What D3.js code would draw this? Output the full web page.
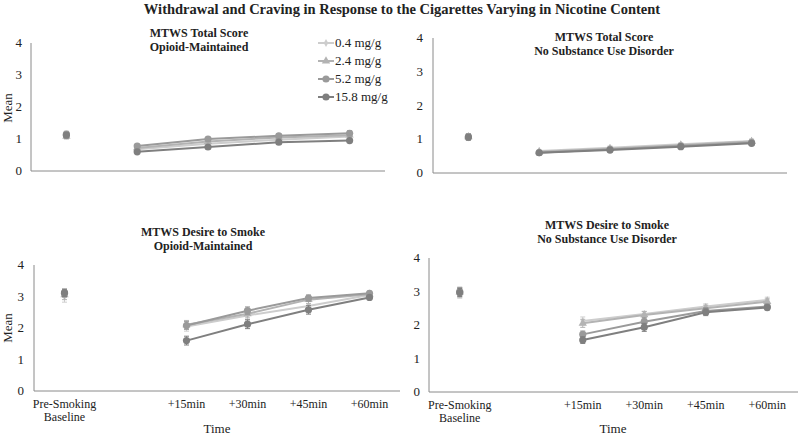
<!DOCTYPE html>
<html><head><meta charset="utf-8">
<script src="https://cdn.jsdelivr.net/npm/d3@7/dist/d3.min.js"></script>
<style>body{margin:0;background:#fff}svg{display:block}</style>
</head><body><svg id="c" width="800" height="437" font-family="'Liberation Serif', 'DejaVu Serif', serif"></svg>
<script>
// ---- data ----
const doses = ["0.4 mg/g", "2.4 mg/g", "5.2 mg/g", "15.8 mg/g"];
const timepointsTop = ["Pre-Smoking Baseline", "+15min", "+30min", "+45min", "+60min"];
const timepointsBottom = ["Pre-Smoking Baseline", "", "+15min", "+30min", "+45min", "+60min"];
const yTicks = [0, 1, 2, 3, 4];
const titleMain = "Withdrawal and Craving in Response to the Cigarettes Varying in Nicotine Content";

// MTWS Total Score, Opioid-Maintained (baseline, +15, +30, +45, +60)
const totalOM = [
  [1.10, 0.68, 0.85, 0.98, 1.08],
  [1.08, 0.72, 0.92, 1.05, 1.12],
  [1.15, 0.78, 1.00, 1.10, 1.18],
  [1.12, 0.60, 0.75, 0.90, 0.95]
];
const totalOMErr = [
  [0.08, 0.05, 0.05, 0.06, 0.07],
  [0.08, 0.05, 0.06, 0.06, 0.07],
  [0.09, 0.06, 0.06, 0.07, 0.08],
  [0.08, 0.05, 0.05, 0.06, 0.06]
];
// MTWS Total Score, No Substance Use Disorder
const totalNS = [
  [1.05, 0.65, 0.75, 0.85, 0.95],
  [1.07, 0.63, 0.72, 0.82, 0.93],
  [1.08, 0.60, 0.70, 0.80, 0.90],
  [1.06, 0.60, 0.68, 0.78, 0.88]
];
const totalNSErr = [
  [0.08, 0.04, 0.05, 0.05, 0.06],
  [0.08, 0.04, 0.05, 0.05, 0.06],
  [0.09, 0.04, 0.05, 0.06, 0.06],
  [0.08, 0.04, 0.05, 0.05, 0.06]
];
// MTWS Desire to Smoke, Opioid-Maintained
const desireOM = [
  [3.00, 2.05, 2.40, 2.70, 3.05],
  [3.05, 2.10, 2.45, 2.90, 3.07],
  [3.10, 2.08, 2.55, 2.95, 3.10],
  [3.12, 1.60, 2.12, 2.58, 2.97]
];
const desireOMErr = [
  [0.18, 0.15, 0.14, 0.14, 0.08],
  [0.15, 0.14, 0.13, 0.12, 0.08],
  [0.12, 0.12, 0.12, 0.10, 0.07],
  [0.12, 0.14, 0.14, 0.14, 0.06]
];
// MTWS Desire to Smoke, No Substance Use Disorder
const desireNS = [
  [2.95, 2.12, 2.33, 2.55, 2.75],
  [2.98, 2.05, 2.30, 2.50, 2.70],
  [3.00, 1.72, 2.10, 2.42, 2.55],
  [2.97, 1.55, 1.93, 2.38, 2.52]
];
const desireNSErr = [
  [0.15, 0.12, 0.08, 0.08, 0.08],
  [0.15, 0.12, 0.10, 0.09, 0.08],
  [0.12, 0.10, 0.12, 0.10, 0.07],
  [0.12, 0.10, 0.12, 0.10, 0.07]
];

// ---- styles ----
const colors = ["#cdcdcd", "#b3b3b3", "#9a9a9a", "#7f7f7f"];
const markers = ["dash", "triangle", "circle", "circle"];
const FONT = "'Liberation Serif', 'DejaVu Serif', serif";

const svg = d3.select("#c");

svg.append("text").attr("x", 402).attr("y", 14).attr("text-anchor", "middle").attr("font-family", FONT)
  .attr("font-weight", "bold").attr("font-size", 14.5).attr("fill", "#222").text(titleMain);

const panels = [
  {vals: totalOM, err: totalOMErr, cats: timepointsTop, x0: 31, x1: 385, yTop: 43, yBot: 171,
   t1: "MTWS Total Score", t2: "Opioid-Maintained", tx: 199, ty: 37, mean: true, meanY: 108, mx: 12, labels: false, legend: true, tickX: 22},
  {vals: totalNS, err: totalNSErr, cats: timepointsTop, x0: 433, x1: 787, yTop: 38, yBot: 173,
   t1: "MTWS Total Score", t2: "No Substance Use Disorder", tx: 604, ty: 41, mean: false, labels: false, legend: false, tickX: 423},
  {vals: desireOM, err: desireOMErr, cats: timepointsBottom, x0: 34, x1: 400, yTop: 265, yBot: 391,
   t1: "MTWS Desire to Smoke", t2: "Opioid-Maintained", tx: 203, ty: 236, mean: true, meanY: 328, mx: 12, labels: true, legend: false, tickX: 24, timeX: 217},
  {vals: desireNS, err: desireNSErr, cats: timepointsBottom, x0: 429, x1: 798, yTop: 258, yBot: 392,
   t1: "MTWS Desire to Smoke", t2: "No Substance Use Disorder", tx: 607, ty: 229, mean: false, labels: true, legend: false, tickX: 420, timeX: 613}
];

function txt(g, x, y, s, size, anchor, bold) {
  return g.append("text").attr("x", x).attr("y", y).attr("text-anchor", anchor || "middle")
    .attr("font-family", FONT).attr("font-size", size).attr("fill", "#222")
    .attr("font-weight", bold ? "bold" : "normal").text(s);
}

function drawMarker(g, type, x, y, color) {
  if (type === "circle") {
    g.append("circle").attr("cx", x).attr("cy", y).attr("r", 3.6).attr("fill", color);
  } else if (type === "triangle") {
    g.append("path").attr("d", d3.symbol().type(d3.symbolTriangle).size(30)())
      .attr("transform", `translate(${x},${y})`).attr("fill", color);
  } else {
    g.append("path").attr("d", d3.symbol().type(d3.symbolDiamond).size(18)())
      .attr("transform", `translate(${x},${y})`).attr("fill", color);
  }
}

panels.forEach(p => {
  const g = svg.append("g");
  const x = d3.scaleBand().domain(p.cats.map((c, i) => i)).range([p.x0, p.x1]);
  const y = d3.scaleLinear().domain([0, 4]).range([p.yBot, p.yTop]);
  const cx = i => x(i) + x.bandwidth() / 2;
  const idx = p.cats.length === 6 ? [0, 2, 3, 4, 5] : [0, 1, 2, 3, 4];

  g.append("line").attr("x1", p.x0).attr("x2", p.x0).attr("y1", y(4)).attr("y2", y(0))
    .attr("stroke", "#8a8a8a").attr("stroke-width", 1);
  g.append("line").attr("x1", p.x0).attr("x2", p.x1).attr("y1", y(0)).attr("y2", y(0))
    .attr("stroke", "#8a8a8a").attr("stroke-width", 1);

  yTicks.forEach(t => txt(g, p.tickX, y(t) + 4, t, 13, "end"));

  txt(g, p.tx, p.ty, p.t1, 12, "middle", true);
  txt(g, p.tx, p.ty + 14, p.t2, 12, "middle", true);

  if (p.mean) {
    g.append("text").attr("transform", `translate(${p.mx},${p.meanY}) rotate(-90)`)
      .attr("text-anchor", "middle").attr("font-family", FONT).attr("font-size", 13).attr("fill", "#222").text("Mean");
  }

  if (p.labels) {
    p.cats.forEach((c, i) => {
      if (!c) return;
      if (c === "Pre-Smoking Baseline") {
        txt(g, cx(i), y(0) + 17, "Pre-Smoking", 12);
        txt(g, cx(i), y(0) + 30, "Baseline", 12);
      } else {
        txt(g, cx(i), y(0) + 17, c, 12);
      }
    });
    txt(g, p.timeX, 433, "Time", 13);
  }

  p.vals.forEach((series, s) => {
    const color = colors[s];
    const linePts = series.slice(1).map((v, k) => [cx(idx[k + 1]), y(v)]);
    g.append("path").attr("d", d3.line()(linePts)).attr("fill", "none")
      .attr("stroke", color).attr("stroke-width", 2);
    series.forEach((v, k) => {
      const px = cx(idx[k]);
      const e = p.err[s][k];
      g.append("line").attr("x1", px).attr("x2", px).attr("y1", y(v - e)).attr("y2", y(v + e))
        .attr("stroke", color).attr("stroke-width", 1);
      [v - e, v + e].forEach(ev => g.append("line").attr("x1", px - 2.5).attr("x2", px + 2.5)
        .attr("y1", y(ev)).attr("y2", y(ev)).attr("stroke", color).attr("stroke-width", 1));
      drawMarker(g, markers[s], px, y(v), color);
    });
  });

  if (p.legend) {
    doses.forEach((d, i) => {
      const ly = 43 + i * 18;
      g.append("line").attr("x1", 318).attr("x2", 334).attr("y1", ly).attr("y2", ly)
        .attr("stroke", colors[i]).attr("stroke-width", 2);
      drawMarker(g, markers[i], 326, ly, colors[i]);
      txt(g, 335, ly + 4, d, 13, "start");
    });
  }
});
</script></body></html>
